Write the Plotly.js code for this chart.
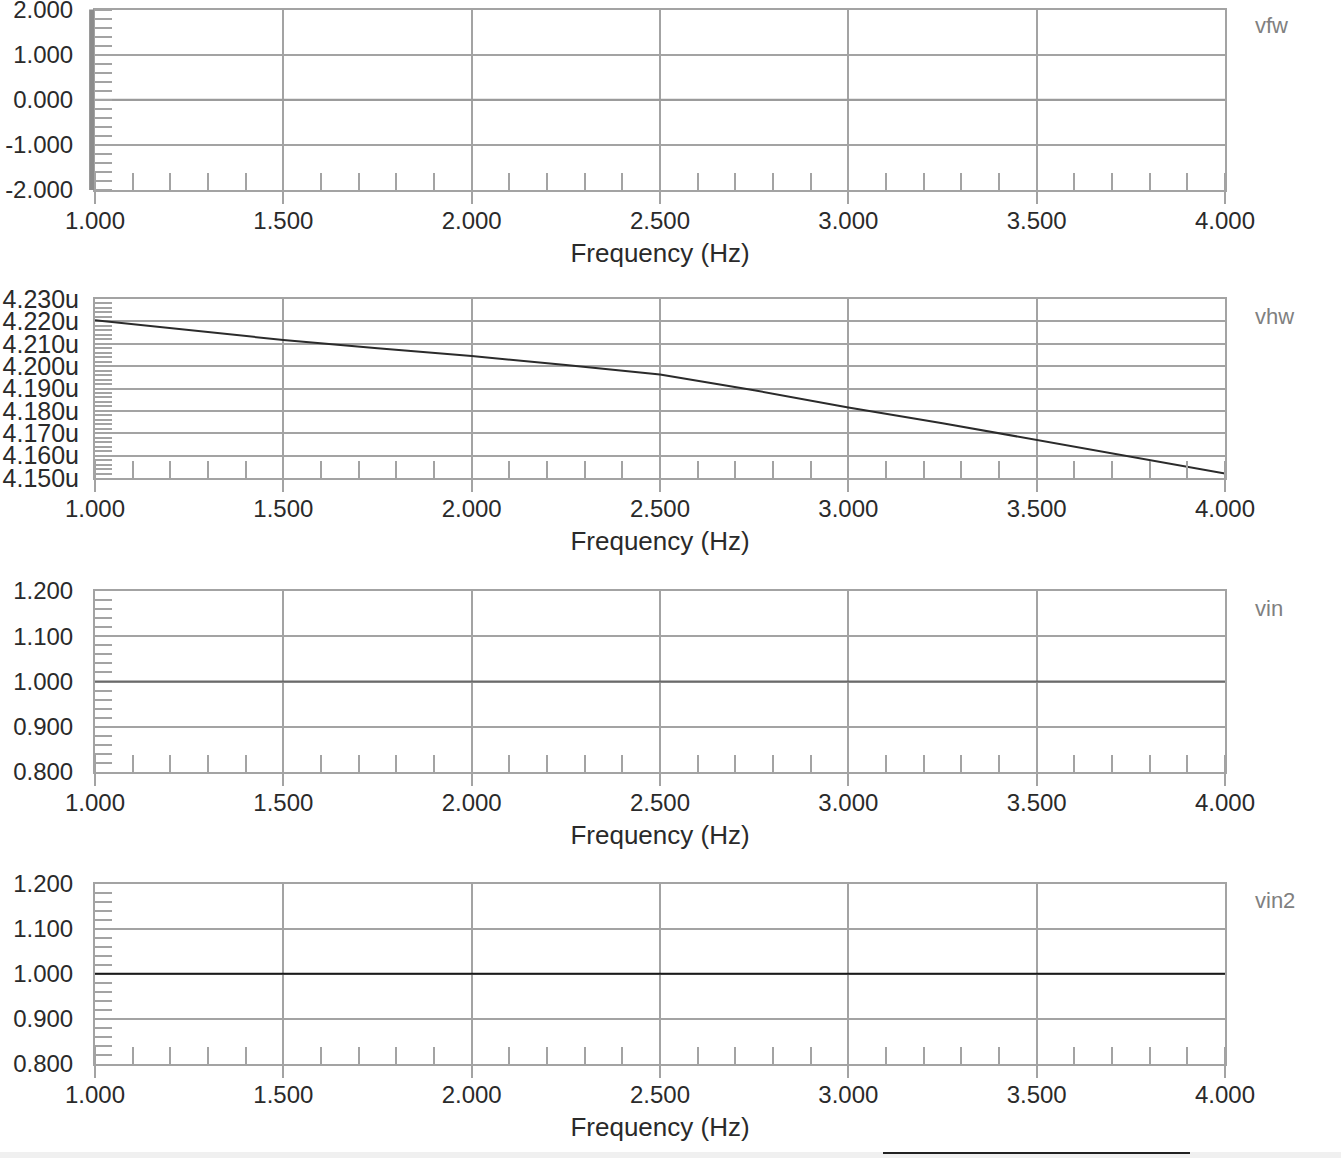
<!DOCTYPE html>
<html>
<head>
<meta charset="utf-8">
<script src="https://cdn.plot.ly/plotly-3.0.1.min.js"></script>
<style>
html,body{margin:0;padding:0;background:#ffffff;}
#chart{width:1341px;height:1158px;}
</style>
</head>
<body>
<div id="chart"></div>
<script>
// ---- data ----
const freq = [1.0, 1.25, 1.5, 1.75, 2.0, 2.25, 2.5, 2.75, 3.0, 3.25, 3.5, 3.75, 4.0];
const vfw = [0, 0, 0, 0, 0, 0, 0, 0, 0, 0, 0, 0, 0];
const vhw_u = [4.2205, 4.2162, 4.2117, 4.2080, 4.2045, 4.2005, 4.1963, 4.1892, 4.1815, 4.1745, 4.1670, 4.1595, 4.1520];
const vin = [1, 1, 1, 1, 1, 1, 1, 1, 1, 1, 1, 1, 1];
const vin2 = [1, 1, 1, 1, 1, 1, 1, 1, 1, 1, 1, 1, 1];
const seriesNames = ["vfw", "vhw", "vin", "vin2"];
const xTitle = "Frequency (Hz)";
const vfwTickVals = [-2, -1, 0, 1, 2];
const vfwTickText = ["-2.000", "-1.000", "0.000", "1.000", "2.000"];

const H = 1158;
const domPx = [[9.5, 190], [299, 478], [591, 772], [883.5, 1064]];
const doms = domPx.map(d => [1 - d[1] / H, 1 - d[0] / H]);

const grid = '#a3a3a3';
const font = {family: 'Liberation Sans, Arial, sans-serif', size: 24, color: '#2a2a2a'};

function xax(i) {
  return {
    domain: [0, 1], anchor: 'y' + (i === 0 ? '' : i + 1),
    range: [1, 4], dtick: 0.5, tick0: 1, tickformat: '.3f',
    ticks: 'outside', ticklen: 12, tickwidth: 2, tickcolor: grid,
    ticklabelstandoff: -4, ticklabeloverflow: 'allow',
    showgrid: true, gridcolor: grid, gridwidth: 2,
    showline: true, linecolor: grid, linewidth: 2, mirror: true,
    zeroline: false,
    minor: {dtick: 0.1, tick0: 1, ticks: 'inside', ticklen: 17, tickwidth: 2, tickcolor: grid, showgrid: false},
    tickfont: font,
    title: {text: xTitle, font: {family: font.family, size: 26, color: '#2a2a2a'}, standoff: 11},
    fixedrange: true
  };
}
function yax(i, range, dtick, mdtick, fmt, suffix, standoff, fsize) {
  return {
    domain: doms[i], anchor: 'x' + (i === 0 ? '' : i + 1),
    range: range, dtick: dtick, tick0: range[0], tickformat: fmt, ticksuffix: suffix,
    ticks: '', ticklabelstandoff: standoff, ticklabeloverflow: 'allow',
    showgrid: true, gridcolor: grid, gridwidth: 2,
    showline: true, linecolor: grid, linewidth: 2, mirror: true,
    zeroline: false,
    minor: {dtick: mdtick, tick0: range[0], ticks: 'inside', ticklen: 17, tickwidth: 2, tickcolor: grid, showgrid: false},
    tickfont: {family: font.family, size: fsize, color: font.color},
    fixedrange: true
  };
}

const traces = [
  {x: freq, y: vfw, xaxis: 'x', yaxis: 'y', mode: 'lines', line: {color: '#9a9a9a', width: 2}, name: seriesNames[0]},
  {x: freq, y: vhw_u, xaxis: 'x2', yaxis: 'y2', mode: 'lines', line: {color: '#2b2b2b', width: 2}, name: seriesNames[1]},
  {x: freq, y: vin, xaxis: 'x3', yaxis: 'y3', mode: 'lines', line: {color: '#6a6a6a', width: 2}, name: seriesNames[2]},
  {x: freq, y: vin2, xaxis: 'x4', yaxis: 'y4', mode: 'lines', line: {color: '#1a1a1a', width: 2}, name: seriesNames[3]}
];

const y1 = yax(0, [-2, 2], 1, 0.2, '.3f', '', 15, 24);
y1.tickmode = 'array';
y1.tickvals = vfwTickVals;
y1.ticktext = vfwTickText;

const layout = {
  width: 1341, height: 1158,
  margin: {l: 95, r: 116, t: 0, b: 0},
  paper_bgcolor: '#ffffff', plot_bgcolor: '#ffffff',
  showlegend: false,
  font: font,
  xaxis: xax(0), xaxis2: xax(1), xaxis3: xax(2), xaxis4: xax(3),
  yaxis: y1,
  yaxis2: yax(1, [4.15, 4.23], 0.01, 0.002, '.3f', 'u', 9, 25),
  yaxis3: yax(2, [0.8, 1.2], 0.1, 0.02, '.3f', '', 15, 24),
  yaxis4: yax(3, [0.8, 1.2], 0.1, 0.02, '.3f', '', 15, 24),
  annotations: seriesNames.map((n, i) => ({
    text: n, xref: 'paper', yref: 'paper', x: (1253 - 95) / 1130,
    y: 1 - [25, 316, 608, 900][i] / H, xanchor: 'left', yanchor: 'middle',
    showarrow: false, font: {family: font.family, size: 22, color: '#808080'}
  })),
  shapes: [
    {type: 'rect', xref: 'x domain', yref: 'y domain', x0: -0.0052, x1: -0.0009, y0: 0, y1: 1,
     fillcolor: '#8c8c8c', line: {width: 0}, layer: 'above'},
    {type: 'rect', xref: 'paper', yref: 'paper', x0: -95 / 1130, x1: 1246 / 1130, y0: 0, y1: 6 / H,
     fillcolor: '#f0f0f0', line: {width: 0}},
    {type: 'line', xref: 'paper', yref: 'paper', x0: (883 - 95) / 1130, x1: (1190 - 95) / 1130,
     y0: 5 / H, y1: 5 / H, line: {color: '#222', width: 2}}
  ]
};

Plotly.newPlot('chart', traces, layout, {displayModeBar: false, staticPlot: true});
</script>
</body>
</html>
